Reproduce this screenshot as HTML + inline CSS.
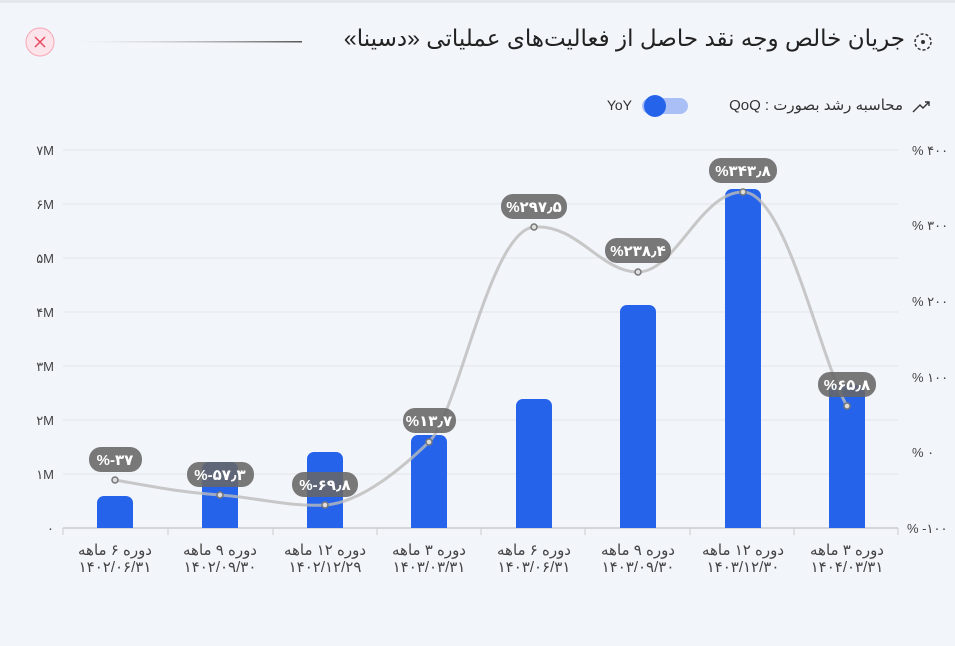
<!DOCTYPE html>
<html><head><meta charset="utf-8"><style>
body{margin:0;width:955px;height:646px;background:#f2f5fa;font-family:"Liberation Sans","DejaVu Sans",sans-serif;overflow:hidden;position:relative}
.t{position:absolute;white-space:nowrap}
</style></head><body>
<div style="position:absolute;left:0;top:0;width:955px;height:3px;background:#e4e7ec"></div>
<svg width="955" height="646" style="position:absolute;left:0;top:0" font-family="Liberation Sans, DejaVu Sans, sans-serif">
<defs><linearGradient id="g" gradientUnits="userSpaceOnUse" x1="75" y1="0" x2="302" y2="0"><stop offset="0" stop-color="#ccc" stop-opacity="0"/><stop offset="1" stop-color="#555"/></linearGradient></defs>
<circle cx="923" cy="42" r="8" fill="none" stroke="#333" stroke-width="1.5" stroke-dasharray="3 2"/><circle cx="923" cy="42" r="2" fill="#333"/>
<rect x="75" y="41" width="227" height="1.5" fill="url(#g)"/>
<circle cx="40" cy="42" r="14" fill="#fde4ea" stroke="#f7a6b5"/>
<path d="M35 37l10 10M45 37l-10 10" stroke="#e5475f" stroke-width="1.5"/>
<rect x="642" y="98" width="46" height="16" rx="8" fill="#a9bff5"/><circle cx="655" cy="106" r="11" fill="#2563eb"/>
<text x="632" y="110" font-size="14" fill="#333" text-anchor="end">YoY</text>
<path d="M913 112l7-7 3 3 6-6M925 102h4v4" stroke="#333" fill="none" stroke-width="1.4"/>
<g stroke="#e2e5ea"><line x1="63" x2="898" y1="150" y2="150"/><line x1="63" x2="898" y1="204" y2="204"/><line x1="63" x2="898" y1="258" y2="258"/><line x1="63" x2="898" y1="312" y2="312"/><line x1="63" x2="898" y1="366" y2="366"/><line x1="63" x2="898" y1="420" y2="420"/><line x1="63" x2="898" y1="474" y2="474"/></g>
<line x1="63" x2="898" y1="528" y2="528" stroke="#ccc" stroke-width="1.5"/>
<g stroke="#ccc"><line x1="63" x2="63" y1="528" y2="535"/><line x1="168" x2="168" y1="528" y2="535"/><line x1="273" x2="273" y1="528" y2="535"/><line x1="377" x2="377" y1="528" y2="535"/><line x1="481" x2="481" y1="528" y2="535"/><line x1="585" x2="585" y1="528" y2="535"/><line x1="690" x2="690" y1="528" y2="535"/><line x1="794" x2="794" y1="528" y2="535"/><line x1="898" x2="898" y1="528" y2="535"/></g>
<g font-size="13" fill="#444" text-anchor="end"><text x="54" y="155">۷M</text><text x="54" y="209">۶M</text><text x="54" y="263">۵M</text><text x="54" y="317">۴M</text><text x="54" y="371">۳M</text><text x="54" y="425">۲M</text><text x="54" y="479">۱M</text><text x="54" y="533">۰</text></g>
<g font-size="13" fill="#444"><text x="912" y="155">% ۴۰۰</text><text x="912" y="230">% ۳۰۰</text><text x="912" y="306">% ۲۰۰</text><text x="912" y="382">% ۱۰۰</text><text x="912" y="457">% ۰</text><text x="907" y="533">% -۱۰۰</text></g>
<g fill="#2563eb">
<path d="M97 528V503a7 7 0 0 1 7-7h22a7 7 0 0 1 7 7V528z"/>
<path d="M202 528V469a7 7 0 0 1 7-7h22a7 7 0 0 1 7 7V528z"/>
<path d="M307 528V459a7 7 0 0 1 7-7h22a7 7 0 0 1 7 7V528z"/>
<path d="M411 528V442a7 7 0 0 1 7-7h22a7 7 0 0 1 7 7V528z"/>
<path d="M516 528V406a7 7 0 0 1 7-7h22a7 7 0 0 1 7 7V528z"/>
<path d="M620 528V312a7 7 0 0 1 7-7h22a7 7 0 0 1 7 7V528z"/>
<path d="M725 528V196a7 7 0 0 1 7-7h22a7 7 0 0 1 7 7V528z"/>
<path d="M829 528V392a7 7 0 0 1 7-7h22a7 7 0 0 1 7 7V528z"/>
</g>
<path d="M115 480C160 488 180 492 220 495S290 507 325 505S400 470 429 442S490 230 534 227S600 272 638 272S700 192 743 192S820 360 847 406" stroke="#bbb" stroke-opacity=".8" stroke-width="3" fill="none"/>
<g fill="#666" fill-opacity=".88">
<rect x="89" y="447" width="53" height="25" rx="12"/><rect x="187" y="462" width="67" height="25" rx="12"/><rect x="292" y="472" width="66" height="25" rx="12"/><rect x="403" y="408" width="53" height="25" rx="12"/><rect x="501" y="194" width="66" height="25" rx="12"/><rect x="605" y="238" width="66" height="25" rx="12"/><rect x="709" y="158" width="68" height="25" rx="12"/><rect x="818" y="372" width="58" height="25" rx="12"/>
</g>
<g fill="#fff" font-size="15" font-weight="bold" text-anchor="middle">
<text x="115" y="465">%-۳۷</text><text x="220" y="480">%-۵۷٫۳</text><text x="325" y="490">%-۶۹٫۸</text><text x="429" y="426">%۱۳٫۷</text><text x="534" y="212">%۲۹۷٫۵</text><text x="638" y="256">%۲۳۸٫۴</text><text x="743" y="176">%۳۴۳٫۸</text><text x="847" y="390">%۶۵٫۸</text>
</g>
<g fill="#ddd" stroke="#777" stroke-width="1.5">
<circle cx="115" cy="480" r="3"/><circle cx="220" cy="495" r="3"/><circle cx="325" cy="505" r="3"/><circle cx="429" cy="442" r="3"/><circle cx="534" cy="227" r="3"/><circle cx="638" cy="272" r="3"/><circle cx="743" cy="192" r="3"/><circle cx="847" cy="406" r="3"/>
</g>
<g font-size="15" fill="#444" text-anchor="middle">
<text x="115" y="555">دوره ۶ ماهه</text><text x="115" y="572">۱۴۰۲/۰۶/۳۱</text>
<text x="220" y="555">دوره ۹ ماهه</text><text x="220" y="572">۱۴۰۲/۰۹/۳۰</text>
<text x="325" y="555">دوره ۱۲ ماهه</text><text x="325" y="572">۱۴۰۲/۱۲/۲۹</text>
<text x="429" y="555">دوره ۳ ماهه</text><text x="429" y="572">۱۴۰۳/۰۳/۳۱</text>
<text x="534" y="555">دوره ۶ ماهه</text><text x="534" y="572">۱۴۰۳/۰۶/۳۱</text>
<text x="638" y="555">دوره ۹ ماهه</text><text x="638" y="572">۱۴۰۳/۰۹/۳۰</text>
<text x="743" y="555">دوره ۱۲ ماهه</text><text x="743" y="572">۱۴۰۳/۱۲/۳۰</text>
<text x="847" y="555">دوره ۳ ماهه</text><text x="847" y="572">۱۴۰۴/۰۳/۳۱</text>
</g>
</svg>
<div class="t" style="right:50px;top:25px;font-size:23px;color:#222;direction:rtl">جریان خالص وجه نقد حاصل از فعالیت‌های عملیاتی «دسینا»</div>
<div class="t" style="right:52px;top:96px;font-size:15px;color:#333;direction:rtl">محاسبه رشد بصورت : QoQ</div>
</body></html>
